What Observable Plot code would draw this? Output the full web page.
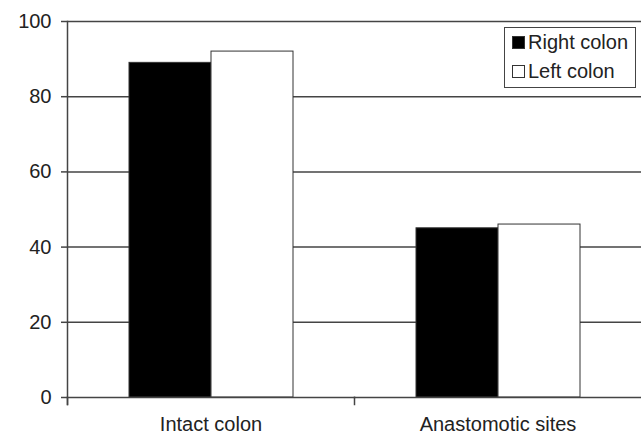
<!DOCTYPE html>
<html>
<head>
<meta charset="utf-8">
<script src="https://cdn.jsdelivr.net/npm/d3@7"></script>
<script src="https://cdn.jsdelivr.net/npm/@observablehq/plot@0.6"></script>
<style>
  body { margin: 0; background: white; }
  #wrap { position: relative; width: 641px; height: 432px; overflow: hidden; font-family: "Liberation Sans", Arial, sans-serif; }
  #legend { position: absolute; left: 504px; top: 27px; width: 130px; height: 59px; border: 1.5px solid #444; background: white; font-size: 20px; color: #222; }
  .row { position: absolute; left: 7px; display: flex; align-items: center; white-space: nowrap; }
  .sw { width: 11px; height: 11px; border: 1px solid #333; margin-right: 3px; }
</style>
</head>
<body>
<div id="wrap"></div>
<script>
const categories = ["Intact colon", "Anastomotic sites"];
const series = ["Right colon", "Left colon"];
const rightColon = [89, 45];
const leftColon = [92, 46];
const yTicks = [0, 20, 40, 60, 80, 100];
const seriesFill = ["black", "white"];

const data = categories.flatMap((c, i) => [
  {category: c, series: series[0], value: rightColon[i]},
  {category: c, series: series[1], value: leftColon[i]}
]);

const chart = Plot.plot({
  width: 641,
  height: 432,
  marginLeft: 66,
  marginRight: 0,
  marginTop: 21,
  marginBottom: 35,
  style: {fontFamily: "Liberation Sans, Arial, sans-serif", fontSize: "20px", background: "white", color: "#222"},
  fx: {domain: categories, padding: 0, label: null, axis: null},
  x: {domain: series, paddingInner: 0, paddingOuter: 0.73, axis: null},
  y: {domain: [0, 100], label: null, axis: null},
  color: {domain: series, range: seriesFill},
  marks: [
    Plot.ruleY(yTicks.slice(1), {stroke: "#444", strokeWidth: 1.5}),
    Plot.barY(data, {fx: "category", x: "series", y: "value", fill: "series", stroke: "#333", strokeWidth: 1}),
    Plot.frame({anchor: "bottom", stroke: "#444", strokeWidth: 1.5}),
    Plot.frame({anchor: "left", facetAnchor: "left", stroke: "#444", strokeWidth: 1.5, insetBottom: -7}),
    Plot.frame({anchor: "left", stroke: "#444", strokeWidth: 1.5, insetTop: 376, insetBottom: -7}),
    Plot.axisY({ticks: yTicks, tickSize: 6, tickPadding: 10, fontSize: 20, stroke: "#444", strokeWidth: 1.5, label: null}),
    Plot.axisFx({anchor: "bottom", tickSize: 0, tickPadding: 19, fontSize: 20, label: null})
  ]
});

const wrap = document.getElementById("wrap");
wrap.appendChild(chart);

const legend = document.createElement("div");
legend.id = "legend";
series.forEach((s, i) => {
  const row = document.createElement("div");
  row.className = "row";
  row.style.top = (3 + i * 29) + "px";
  const sw = document.createElement("div");
  sw.className = "sw";
  sw.style.background = seriesFill[i];
  const t = document.createElement("span");
  t.textContent = s;
  row.appendChild(sw);
  row.appendChild(t);
  legend.appendChild(row);
});
wrap.appendChild(legend);
</script>
</body>
</html>
